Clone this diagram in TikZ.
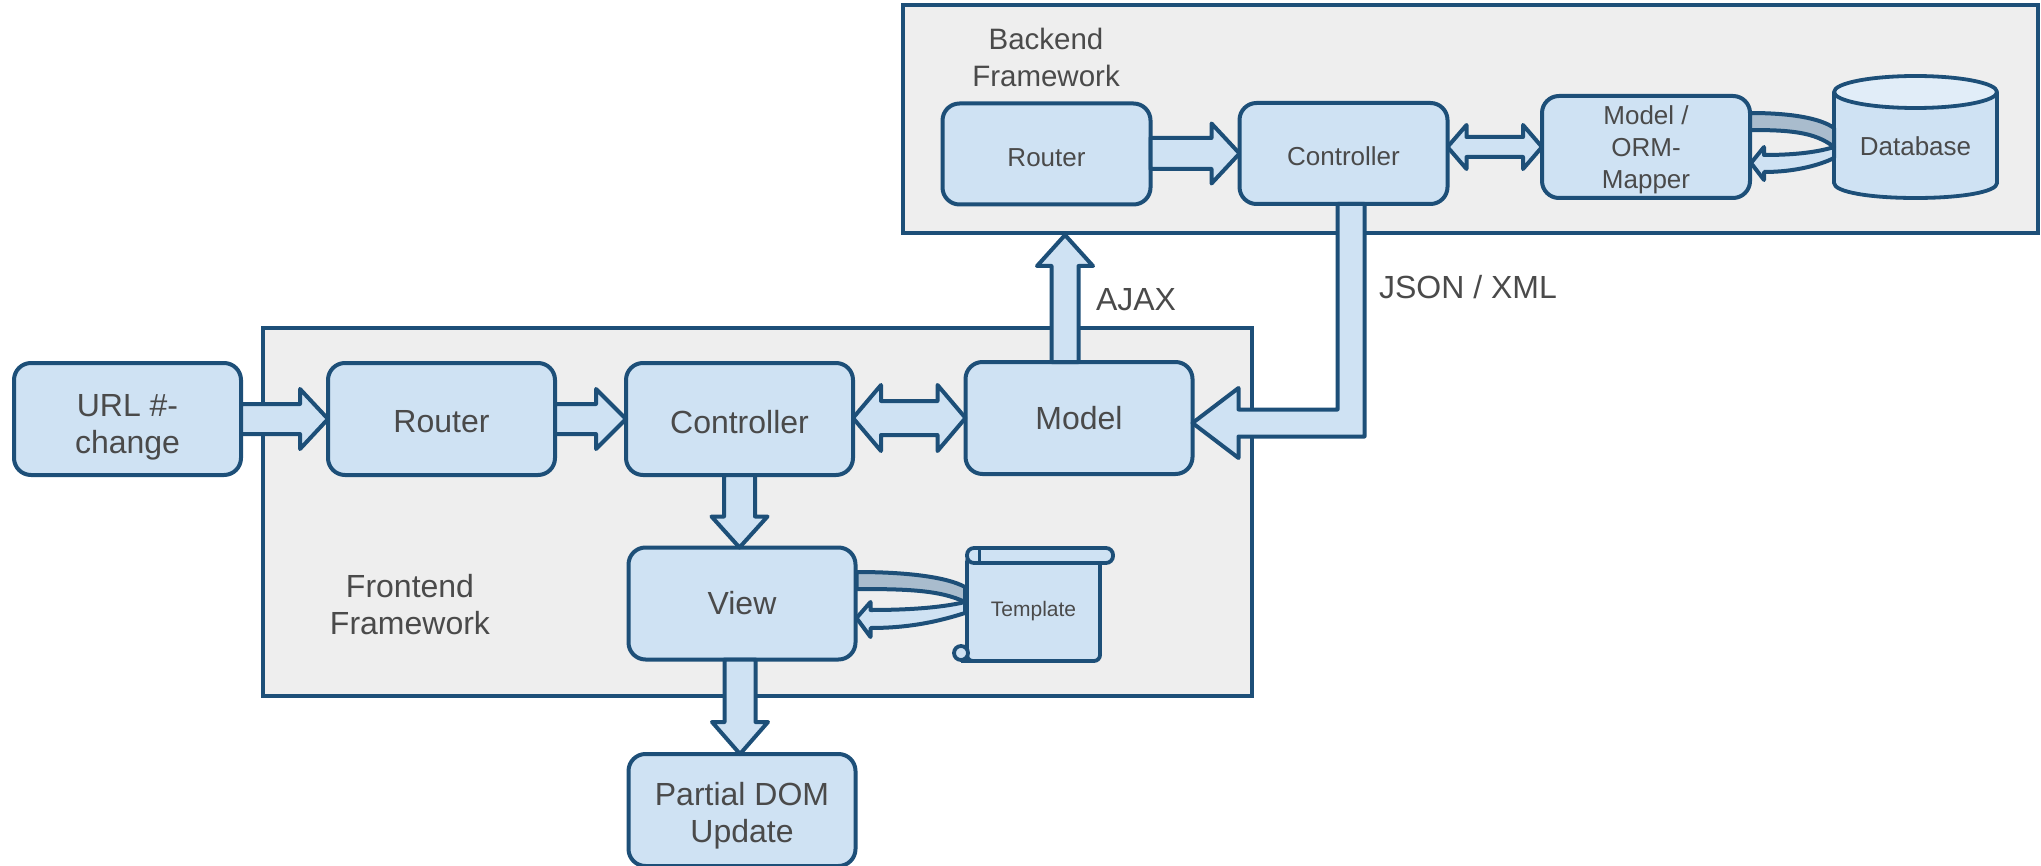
\documentclass[tikz,border=0pt]{standalone}
\usepackage{fontspec}
\setmainfont{Liberation Sans}
\usetikzlibrary{calc}
\definecolor{edge}{HTML}{1D4F78}
\definecolor{boxfill}{HTML}{CFE2F3}
\definecolor{panelfill}{HTML}{EEEEEE}
\definecolor{bandfill}{HTML}{A9BCCD}
\definecolor{dbtop}{HTML}{E1EDF8}
\definecolor{txt}{HTML}{4A4A4A}
\newcommand{\fsz}[2]{\fontsize{#1}{#2}\selectfont}
% right-pointing block arrow: from, to, tail half, head half, head length
\newcommand{\rightblock}[5]{%
  \draw[blockarrow] let \p1=(#1),\p2=(#2) in
   (\x1,{\y2+#3pt}) -- ({\x2-#5pt},{\y2+#3pt}) -- ({\x2-#5pt},{\y2+#4pt}) -- (\x2,\y2)
   -- ({\x2-#5pt},{\y2-#4pt}) -- ({\x2-#5pt},{\y2-#3pt}) -- (\x1,{\y2-#3pt}) -- cycle;}
% double-headed
\newcommand{\bothblock}[5]{%
  \draw[blockarrow] let \p1=(#1),\p2=(#2) in
   ({\x1+#5pt},{\y2+#3pt}) -- ({\x2-#5pt},{\y2+#3pt}) -- ({\x2-#5pt},{\y2+#4pt}) -- (\x2,\y2)
   -- ({\x2-#5pt},{\y2-#4pt}) -- ({\x2-#5pt},{\y2-#3pt}) -- ({\x1+#5pt},{\y2-#3pt})
   -- ({\x1+#5pt},{\y2-#4pt}) -- (\x1,\y2) -- ({\x1+#5pt},{\y2+#4pt}) -- cycle;}
% downward (positive length) or upward (negative length) block arrow
\newcommand{\vertblock}[5]{%
  \draw[blockarrow] let \p1=(#1),\p2=(#2) in
   ({\x1-#3pt},\y1) -- ({\x1-#3pt},{\y2+(#5pt)}) -- ({\x1-#4pt},{\y2+(#5pt)}) -- (\x1,\y2)
   -- ({\x1+#4pt},{\y2+(#5pt)}) -- ({\x1+#3pt},{\y2+(#5pt)}) -- ({\x1+#3pt},\y1) -- cycle;}
\tikzset{
  panel/.style={draw=edge,fill=panelfill,line width=3.8pt,inner sep=0pt,outer sep=0pt},
  box/.style={draw=edge,fill=boxfill,line width=4pt,rounded corners=17pt,inner sep=0pt,outer sep=0pt,
    minimum width=227pt,minimum height=112pt},
  smallbox/.style={box,minimum width=208pt,minimum height=101pt},
  freetext/.style={inner sep=0pt,outer sep=0pt,align=center,text=txt,font=\fsz{32}{37}},
  bigtext/.style 2 args={label={[freetext,yshift=#1pt]center:{#2}}},
  smalltext/.style 2 args={label={[freetext,font=\fsz{26}{32},yshift=#1pt]center:{#2}}},
  blockarrow/.style={draw=edge,fill=boxfill,line width=4pt,line join=round},
  band/.style={draw=edge,fill=bandfill,line width=4pt,line join=round},
  shapeline/.style={draw=edge,fill=boxfill,line width=3.8pt,line join=round},
}
\begin{document}
\begin{tikzpicture}[x=1pt,y=-1pt]
\useasboundingbox (0,0) rectangle (2041,866);
% panels
\node[panel,minimum width=989pt,minimum height=368pt] (frontend) at (757.5,512) {};
\node[panel,minimum width=1135pt,minimum height=228pt] (backend) at (1470.5,119) {};
\node[freetext] (frontlabel) at (410,605) {Frontend\\Framework};
\node[freetext,font=\fsz{29.5}{37}] (backlabel) at (1046,57) {Backend\\Framework};
% frontend boxes
\node[box,bigtext={-8}{URL \#-\\change}] (url) at (127.5,419) {};
\node[box,bigtext={-3}{Router}] (router) at (441.5,419) {};
\node[box,bigtext={-3}{Controller}] (ctrl) at (739.5,419) {};
\node[box,bigtext={0}{Model}] (model) at (1079,418) {};
\node[box,bigtext={0}{View}] (view) at (742,603.5) {};
\node[box,bigtext={-6}{Partial DOM\\Update}] (dom) at (742,810) {};
% backend boxes
\node[smallbox,smalltext={-4}{Router}] (brouter) at (1046.5,154) {};
\node[smallbox,smalltext={-3}{Controller}] (bctrl) at (1343.5,153.5) {};
\node[smallbox,minimum height=102pt,smalltext={-3}{Model /\\ORM-\\Mapper}] (orm) at (1646,147) {};
% database
\draw[shapeline] (1834,92) -- (1834,183) .. controls (1834,192) and (1870,198) .. (1915.5,198)
  .. controls (1961,198) and (1997,192) .. (1997,183) -- (1997,92) -- cycle;
\draw[shapeline,fill=dbtop] (1915.5,92) ellipse [x radius=81.5,y radius=16];
\node[freetext,font=\fsz{26}{32},minimum width=163pt,minimum height=100pt] (db) at (1915.5,146) {Database};
% template scroll
\draw[shapeline,rounded corners=6pt] (967,556) -- (967,661) -- (1100,661) -- (1100,556) -- cycle;
\draw[shapeline] (961,653) circle [radius=7];
\draw[edge,line width=3.8pt] (961,661) -- (975,661);
\draw[shapeline,rounded corners=7pt] (967,548) rectangle (1113,563);
\draw[edge,line width=3pt] (979,548) -- (979,563);
\node[freetext,font=\fsz{21}{26},minimum width=133pt,minimum height=100pt] (tpl) at (1033.5,611) {Template};
% straight connectors
\rightblock{url.east}{router.west}{15}{30}{28}
\rightblock{router.east}{ctrl.west}{15}{30}{30}
\bothblock{ctrl.east}{model.west}{17}{33}{28}
\vertblock{ctrl.south}{view.north}{15.5}{28}{31}
\vertblock{$(view.south)+(-2,0)$}{dom.north}{15.5}{28}{32}
\vertblock{$(model.north)+(-14,0)$}{$(backend.south)+(0,2)$}{13.5}{28}{-31}
\rightblock{brouter.east}{bctrl.west}{15.5}{30}{28}
\bothblock{bctrl.east}{orm.west}{10}{22}{19}
% elbow connector
\draw[blockarrow] let \p1=($(bctrl.south)+(7.5,0)$),\p2=($(model.east)+(0,5)$) in
  ({\x1-13.5pt},\y1) -- ({\x1-13.5pt},{\y2+13.5pt}) -- ({\x2+46pt},{\y2+13.5pt}) -- ({\x2+46pt},{\y2+35pt})
  -- (\x2,\y2) -- ({\x2+46pt},{\y2-35pt}) -- ({\x2+46pt},{\y2-13.5pt}) -- ({\x1+13.5pt},{\y2-13.5pt})
  -- ({\x1+13.5pt},\y1) -- cycle;
% curved connectors: ORM <-> database
\draw[band] ($(orm.east)+(0,-34)$) .. controls +(40,0) and +(-14,-10) .. ($(db.west)+(0,-18)$)
  -- ($(db.west)+(0,1)$) .. controls +(-19,-15) and +(40,0) .. ($(orm.east)+(0,-17)$) -- cycle;
\draw[blockarrow] ($(db.west)+(0,1)$) .. controls +(-19,6) and +(26,0) .. ($(orm.east)+(14,8)$)
  -- ($(orm.east)+(14,0)$) -- ($(orm.east)+(1,16)$) -- ($(orm.east)+(14,33)$) -- ($(orm.east)+(14,25)$)
  .. controls +(31,0) and +(-14,7) .. ($(db.west)+(0,12)$) -- cycle;
% curved connectors: view <-> template
\draw[band] ($(view.east)+(1,-31.5)$) .. controls +(50,0) and +(-18,-10) .. ($(tpl.west)+(-2,-24)$)
  -- ($(tpl.west)+(-2,-9)$) .. controls +(-25,-12) and +(50,0) .. ($(view.east)+(1,-14.5)$) -- cycle;
\draw[blockarrow] ($(tpl.west)+(-2,-9)$) .. controls +(-25,6) and +(35,0) .. ($(view.east)+(15,6.5)$)
  -- ($(view.east)+(15,-1.5)$) -- ($(view.east)+(1,14.5)$) -- ($(view.east)+(15,33.5)$) -- ($(view.east)+(15,24.5)$)
  .. controls +(40,0) and +(-25,8) .. ($(tpl.west)+(-2,2)$) -- cycle;
% free labels
\node[freetext] (ajax) at (1136,300) {AJAX};
\node[freetext] (json) at (1468,287) {JSON / XML};
\end{tikzpicture}
\end{document}
